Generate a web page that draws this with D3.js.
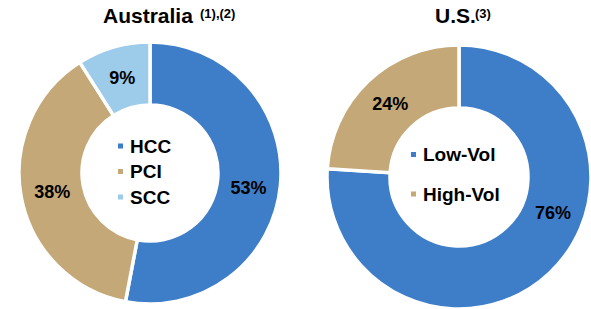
<!DOCTYPE html>
<html><head><meta charset="utf-8">
<script src="https://cdn.jsdelivr.net/npm/d3@7"></script>
<style>
html,body{margin:0;padding:0;background:#fff;}
svg{display:block;font-family:"Liberation Sans",Arial,sans-serif;font-weight:bold;}
</style></head>
<body>
<svg id="c" width="591" height="309"></svg>
<script>
// ---- data ----
const auCategories = ["HCC", "PCI", "SCC"];
const auValues = [53, 38, 9];
const usCategories = ["Low-Vol", "High-Vol"];
const usValues = [76, 24];
const titles = ["Australia", "U.S."];
const titleNotes = ["(1),(2)", "(3)"];

// ---- style ----
const colors = {HCC:"#3E7DC8", PCI:"#C4A877", SCC:"#9DCBEA", "Low-Vol":"#3E7DC8", "High-Vol":"#C4A877"};
const svg = d3.select("#c");

const charts = [
  {cats: auCategories, vals: auValues, cx:150, cy:173, r0:68, r1:131, labelFrac:[0.515,0.5,0.5],
   title: titles[0], note: titleNotes[0], titleX:103, noteX:200,
   legX:118, legY0:146, legStep:25.5},
  {cats: usCategories, vals: usValues, cx:459, cy:177, r0:69, r1:132, labelFrac:[0.405,0.5],
   title: titles[1], note: titleNotes[1], titleX:435, noteX:475,
   legX:411, legY0:154.5, legStep:39.5}
];

charts.forEach(c => {
  const g = svg.append("g").attr("transform", `translate(${c.cx},${c.cy})`);
  const data = c.cats.map((k,i) => ({key:k, value:c.vals[i]}));
  const pie = d3.pie().sort(null).value(d => d.value);
  const arcs = pie(data);
  const arc = d3.arc().innerRadius(c.r0).outerRadius(c.r1);
  g.selectAll("path.slice").data(arcs).join("path")
    .attr("class","slice")
    .attr("d", arc)
    .attr("fill", d => colors[d.data.key])
    .attr("stroke", "#fff")
    .attr("stroke-width", 3.5)
    .attr("stroke-linejoin", "miter");
  // value labels
  g.selectAll("text.val").data(arcs).join("text")
    .attr("class","val")
    .attr("transform", (d,i) => {
      const a = d.startAngle + (d.endAngle - d.startAngle) * c.labelFrac[i];
      const p = arc.centroid({startAngle:a, endAngle:a});
      return `translate(${p[0]},${p[1]})`;
    })
    .attr("text-anchor","middle")
    .attr("dy","0.36em")
    .attr("font-size", 18)
    .attr("fill","#000")
    .text(d => d.data.value + "%");
  // legend
  const lg = svg.append("g");
  c.cats.forEach((k,i) => {
    const y = c.legY0 + i * c.legStep;
    lg.append("rect").attr("x", c.legX).attr("y", y - 2.5).attr("width", 5).attr("height", 5)
      .attr("fill", colors[k]);
    lg.append("text").attr("x", c.legX + 12).attr("y", y + 6.6)
      .attr("font-size", 19).attr("fill","#000").text(k);
  });
  // title
  svg.append("text").attr("x", c.titleX).attr("y", 23).attr("font-size", 21).attr("fill","#000").text(c.title);
  svg.append("text").attr("x", c.noteX).attr("y", 17.5).attr("font-size", 13).attr("fill","#000").text(c.note);
});
</script>
</body></html>
